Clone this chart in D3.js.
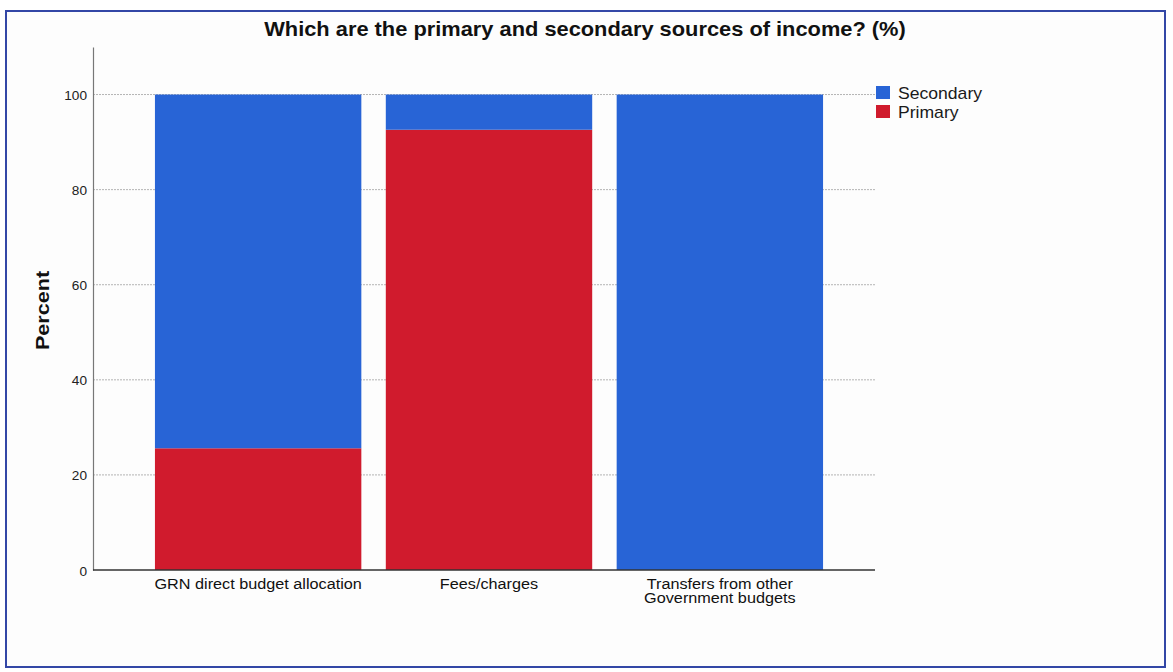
<!DOCTYPE html>
<html>
<head>
<meta charset="utf-8">
<script src="https://cdn.jsdelivr.net/npm/d3@7"></script>
<style>
  html, body { margin: 0; padding: 0; background: #ffffff; }
  svg { display: block; font-family: "Liberation Sans", Arial, sans-serif; }
</style>
</head>
<body>
<svg id="chart" width="1173" height="672"></svg>
<script>
// Income source categories (two-line labels split on "|")
const categories = ["GRN direct budget allocation", "Fees/charges", "Transfers from other|Government budgets"];
// Percent of respondents naming each source as primary / secondary
const primary = [25.6, 92.6, 0];
const secondary = [74.4, 7.4, 100];
const seriesNames = ["Primary", "Secondary"];
const legendOrder = ["Secondary", "Primary"];
const yTicks = [0, 20, 40, 60, 80, 100];

const colors = { Primary: "#d01b2d", Secondary: "#2864d6" };

const svg = d3.select("#chart");

// place a text element with a slight horizontal stretch (wide printed lettering)
function placeText(parent, x, y, sx, rotate) {
  const rot = rotate ? ` rotate(${rotate})` : "";
  return parent.append("text")
    .attr("transform", `translate(${x},${y})${rot} scale(${sx},1)`);
}

// outer frame
svg.append("rect")
  .attr("x", 6).attr("y", 11).attr("width", 1159).attr("height", 656)
  .attr("fill", "#fdfdfd").attr("stroke", "#3347a6").attr("stroke-width", 2);

const plot = { left: 93, right: 875, top: 47, bottom: 570 };

const x = d3.scaleBand()
  .domain(categories)
  .range([plot.left + 10, plot.right])
  .paddingInner(0.106)
  .paddingOuter(0.225);

const y = d3.scaleLinear()
  .domain([0, 110])
  .range([plot.bottom, plot.top]);

// gridlines
svg.append("g")
  .selectAll("line")
  .data(yTicks.filter(d => d > 0))
  .join("line")
  .attr("x1", plot.left).attr("x2", plot.right)
  .attr("y1", d => y(d)).attr("y2", d => y(d))
  .attr("stroke", "#b4b4b4").attr("stroke-width", 1)
  .attr("stroke-dasharray", "2,1");

// stacked bars
const rows = categories.map((c, i) => ({ category: c, Primary: primary[i], Secondary: secondary[i] }));
const stack = d3.stack().keys(seriesNames)(rows);

svg.append("g")
  .selectAll("g")
  .data(stack)
  .join("g")
  .attr("fill", s => colors[s.key])
  .selectAll("rect")
  .data(s => s)
  .join("rect")
  .attr("x", d => x(d.data.category))
  .attr("width", x.bandwidth())
  .attr("y", d => y(d[1]))
  .attr("height", d => y(d[0]) - y(d[1]));

// y axis line and tick labels
const yAxis = d3.axisLeft(y).tickValues(yTicks).tickSize(0).tickFormat("");
const gy = svg.append("g").attr("transform", `translate(${plot.left},0)`).call(yAxis);
gy.select(".domain").attr("stroke", "#777").attr("stroke-width", 1.2);
gy.selectAll(".tick").each(function(d) {
  placeText(d3.select(this), -6, 5, 1.05)
    .attr("text-anchor", "end")
    .attr("font-size", 13).attr("fill", "#222")
    .text(d);
});

// x axis line and category labels
const xAxis = d3.axisBottom(x).tickSize(0).tickFormat("");
const gx = svg.append("g").attr("transform", `translate(0,${plot.bottom})`).call(xAxis);
gx.select(".domain").attr("d", `M${plot.left},0H${plot.right}`)
  .attr("stroke", "#333").attr("stroke-width", 1.5);

gx.selectAll(".tick").each(function(d) {
  const lines = d.split("|");
  const t = placeText(d3.select(this), 0, 19, 1.12)
    .attr("text-anchor", "middle")
    .attr("fill", "#111")
    .attr("font-size", 14.5);
  lines.forEach((ln, i) => {
    t.append("tspan").attr("x", 0).attr("dy", i === 0 ? 0 : 14.5).text(ln);
  });
});

// y axis title
placeText(svg, 49, (plot.top + plot.bottom) / 2 + 2, 1.2, -90)
  .attr("text-anchor", "middle")
  .attr("font-size", 18).attr("font-weight", "bold").attr("fill", "#111")
  .text("Percent");

// chart title
placeText(svg, 585, 36, 1.12)
  .attr("text-anchor", "middle")
  .attr("font-size", 19.5).attr("font-weight", "bold").attr("fill", "#111")
  .text("Which are the primary and secondary sources of income? (%)");

// legend
const legend = svg.append("g").attr("transform", "translate(876,86)");
const li = legend.selectAll("g").data(legendOrder).join("g")
  .attr("transform", (d, i) => `translate(0,${i * 19})`);
li.append("rect").attr("width", 14).attr("height", 13).attr("fill", d => colors[d]);
li.each(function(d) {
  placeText(d3.select(this), 22, 12.5, 1.1)
    .attr("font-size", 16).attr("fill", "#1a1a1a").text(d);
});
</script>
</body>
</html>
